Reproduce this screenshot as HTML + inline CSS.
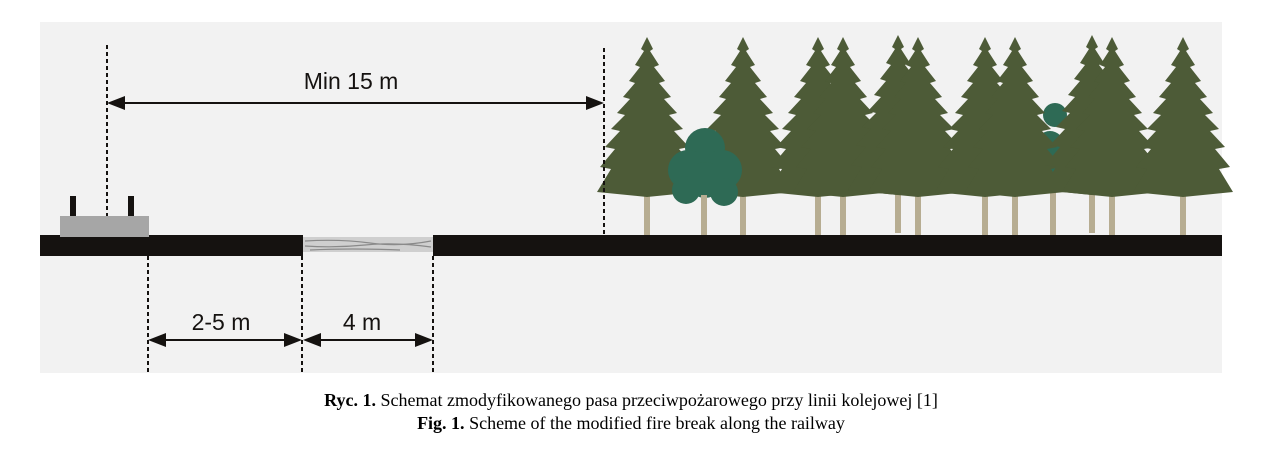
<!DOCTYPE html>
<html><head><meta charset="utf-8"><style>
html,body{margin:0;padding:0;background:#fff;}
body{width:1262px;height:454px;position:relative;overflow:hidden;}
svg{position:absolute;left:0;top:0;}
.cap{position:absolute;left:0;width:1262px;text-align:center;font-family:"Liberation Serif",serif;font-size:18px;color:#000;}
</style></head><body>
<svg width="1262" height="454" viewBox="0 0 1262 454">
<defs>
<path id="spr" d="M0,0 L6,12 L3,14 L12,28 L7,30 L18,44 L12,46 L24,60 L17,62 L30,76 L22,78 L36,92 L27,94 L42,110 L32,112 L47,130 L36,132 L50,155 L0,160 L-50,155 L-36,132 L-47,130 L-32,112 L-42,110 L-27,94 L-36,92 L-22,78 L-30,76 L-17,62 L-24,60 L-12,46 L-18,44 L-7,30 L-12,28 L-3,14 L-6,12 Z"/>
<g id="tree"><rect x="-3" y="150" width="6" height="48" fill="#b7ad92"/><use href="#spr" fill="#4d5b37"/></g>
</defs>
<rect x="40" y="22" width="1182" height="351" fill="#f2f2f2"/>
<g fill="#2e6a55">
<circle cx="1055" cy="115" r="12"/><circle cx="1050" cy="145" r="14"/><circle cx="1058" cy="175" r="14"/>
</g>
<rect x="1050" y="180" width="6" height="55" fill="#b7ad92"/>
<use href="#tree" x="647" y="37"/>
<use href="#tree" x="743" y="37"/>
<use href="#tree" x="818" y="37"/>
<use href="#tree" x="843" y="37"/>
<use href="#tree" x="898" y="35"/>
<use href="#tree" x="918" y="37"/>
<use href="#tree" x="985" y="37"/>
<use href="#tree" x="1015" y="37"/>
<use href="#tree" x="1092" y="35"/>
<use href="#tree" x="1112" y="37"/>
<use href="#tree" x="1183" y="37"/>
<g fill="#2e6a55">
<circle cx="705" cy="148" r="20"/><circle cx="688" cy="170" r="20"/><circle cx="722" cy="170" r="20"/><circle cx="686" cy="190" r="14"/><circle cx="724" cy="192" r="14"/><circle cx="705" cy="180" r="18"/>
</g>
<rect x="701" y="195" width="6" height="40" fill="#b7ad92"/>
<rect x="40" y="235" width="263" height="21" fill="#151210"/>
<rect x="433" y="235" width="789" height="21" fill="#151210"/>
<rect x="303" y="237" width="130" height="15" fill="#cfcfcf"/>
<g stroke="#8a8a8a" stroke-width="1.2" fill="none">
<path d="M305,241 Q340,239 370,243 T431,241"/><path d="M305,246 Q335,248 365,245 T431,247"/><path d="M310,250 Q350,248 400,250"/>
</g>
<rect x="60" y="216" width="89" height="21" fill="#a6a6a6"/>
<rect x="70" y="196" width="6" height="20" fill="#151210"/>
<rect x="128" y="196" width="6" height="20" fill="#151210"/>
<g stroke="#151210" stroke-width="2" stroke-dasharray="4,3">
<line x1="107" y1="45" x2="107" y2="216"/>
<line x1="604" y1="48" x2="604" y2="235"/>
<line x1="148" y1="256" x2="148" y2="373"/>
<line x1="302" y1="256" x2="302" y2="373"/>
<line x1="433" y1="256" x2="433" y2="373"/>
</g>
<g stroke="#151210" stroke-width="2"><line x1="115" y1="103" x2="596" y2="103"/><line x1="156" y1="340" x2="294" y2="340"/><line x1="310" y1="340" x2="425" y2="340"/></g>
<g fill="#151210">
<polygon points="107,103 125,96 125,110"/><polygon points="604,103 586,96 586,110"/>
<polygon points="148,340 166,333 166,347"/><polygon points="302,340 284,333 284,347"/>
<polygon points="303,340 321,333 321,347"/><polygon points="433,340 415,333 415,347"/>
</g>
<g font-family="Liberation Sans, sans-serif" font-size="23" fill="#151210" text-anchor="middle">
<text x="351" y="89">Min 15 m</text>
<text x="221" y="330">2-5 m</text>
<text x="362" y="330">4 m</text>
</g>
</svg>
<div class="cap" style="top:390px"><b>Ryc. 1.</b> Schemat zmodyfikowanego pasa przeciwpożarowego przy linii kolejowej [1]</div>
<div class="cap" style="top:413px"><b>Fig. 1.</b> Scheme of the modified fire break along the railway</div>
</body></html>
